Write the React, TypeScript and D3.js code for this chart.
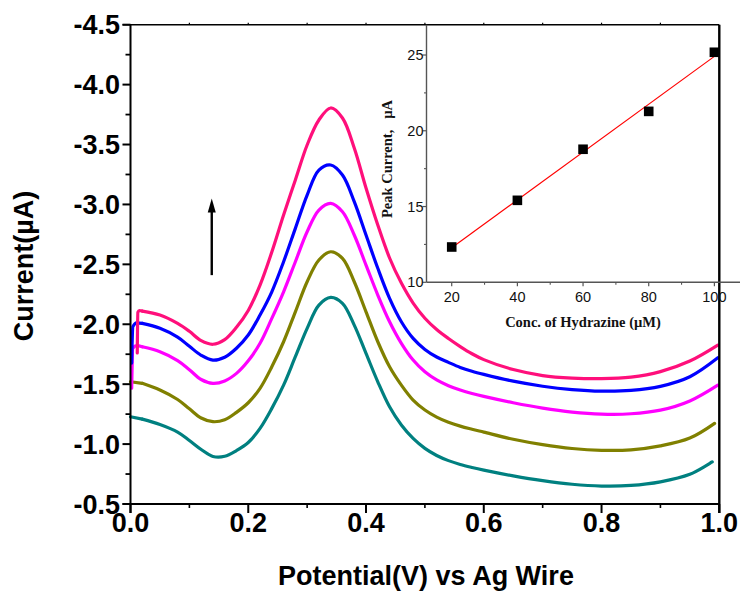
import React from 'react';
import * as d3 from 'd3';

// ---------- Main chart data (potential in V, current in µA) ----------
const potential = [0.02, 0.05, 0.08, 0.10, 0.12, 0.14, 0.16, 0.18, 0.20, 0.22, 0.24, 0.26, 0.28, 0.30, 0.32, 0.34, 0.36, 0.38, 0.40, 0.42, 0.44, 0.46, 0.48, 0.50, 0.52, 0.54, 0.56, 0.58, 0.60, 0.65, 0.70, 0.75, 0.80, 0.85, 0.90, 0.95];

const tealCurrent = [-1.208, -1.163, -1.100, -1.030, -0.955, -0.897, -0.898, -0.946, -1.013, -1.131, -1.298, -1.492, -1.729, -1.966, -2.160, -2.224, -2.174, -1.993, -1.757, -1.520, -1.311, -1.159, -1.047, -0.964, -0.905, -0.862, -0.830, -0.805, -0.783, -0.735, -0.695, -0.665, -0.650, -0.655, -0.685, -0.748];
const oliveCurrent = [-1.507, -1.451, -1.372, -1.294, -1.218, -1.187, -1.203, -1.265, -1.345, -1.465, -1.645, -1.854, -2.104, -2.355, -2.536, -2.605, -2.550, -2.355, -2.104, -1.854, -1.645, -1.492, -1.367, -1.284, -1.225, -1.182, -1.150, -1.124, -1.100, -1.040, -0.995, -0.963, -0.948, -0.952, -0.985, -1.050];
const magentaCurrent = [-1.812, -1.771, -1.697, -1.621, -1.539, -1.507, -1.527, -1.590, -1.695, -1.841, -2.049, -2.271, -2.522, -2.772, -2.953, -3.009, -2.939, -2.745, -2.494, -2.244, -2.021, -1.841, -1.701, -1.603, -1.535, -1.487, -1.451, -1.422, -1.398, -1.345, -1.300, -1.267, -1.250, -1.253, -1.283, -1.360];
const blueCurrent = [-2.007, -1.966, -1.892, -1.816, -1.741, -1.701, -1.725, -1.800, -1.910, -2.077, -2.271, -2.522, -2.800, -3.078, -3.287, -3.329, -3.245, -3.023, -2.745, -2.467, -2.216, -2.021, -1.882, -1.790, -1.727, -1.682, -1.640, -1.608, -1.582, -1.525, -1.483, -1.455, -1.442, -1.448, -1.482, -1.562];
const pinkCurrent = [-2.110, -2.077, -2.007, -1.941, -1.863, -1.833, -1.872, -1.975, -2.115, -2.327, -2.603, -2.912, -3.204, -3.496, -3.705, -3.805, -3.721, -3.471, -3.137, -2.828, -2.553, -2.344, -2.177, -2.050, -1.956, -1.881, -1.814, -1.754, -1.705, -1.622, -1.572, -1.551, -1.546, -1.559, -1.605, -1.693];

// scan onset points and end points of each trace
const onsetV = [[0.0], [0.0], [0.002, 0.004, 0.0105], [0.002, 0.004, 0.0105], [0.0115, 0.0125, 0.015]];
const onsetI = [[-1.228], [-1.520], [-1.467, -1.800, -1.821], [-1.676, -1.980, -2.012], [-1.760, -2.100, -2.115]];
const endV = [0.988, 0.992, 0.9975, 0.9975, 0.9975];
const endI = [-0.852, -1.173, -1.492, -1.720, -1.826];

const seriesCurrents = [tealCurrent, oliveCurrent, magentaCurrent, blueCurrent, pinkCurrent];
const seriesColors = ['#008080', '#808000', '#ff00ff', '#0000ff', '#ff0f7b'];

const mainXTicks = [0, 0.2, 0.4, 0.6, 0.8, 1.0];
const mainXMinor = [0.1, 0.3, 0.5, 0.7, 0.9];
const mainYTicks = [-4.5, -4.0, -3.5, -3.0, -2.5, -2.0, -1.5, -1.0, -0.5];
const mainYMinor = [-4.25, -3.75, -3.25, -2.75, -2.25, -1.75, -1.25, -0.75];

// arrow annotation (data units)
const arrowV = 0.138;
const arrowFrom = -2.41;
const arrowTo = -3.05;

// ---------- Inset data ----------
const hydrazineConc = [20, 40, 60, 80, 100];
const peakCurrent = [12.33, 15.41, 18.78, 21.28, 25.18];
const insetXTicks = [20, 40, 60, 80, 100];
const insetXMinor = [30, 50, 70, 90];
const insetYTicks = [10, 15, 20, 25];
const insetYMinor = [12.5, 17.5, 22.5];

const W = 740;
const H = 592;

export default function App() {
  const x = d3.scaleLinear().domain([0, 1]).range([130.5, 719.3]);
  const y = d3.scaleLinear().domain([-0.5, -4.5]).range([504, 24.7]);

  const ix = d3.scaleLinear().domain([12.32, 107.8]).range([426.5, 740]);
  const iy = d3.scaleLinear().domain([10, 27]).range([282.3, 24.7]);

  const headLine = d3
    .line<[number, number]>()
    .x((d) => x(d[0]))
    .y((d) => y(d[1]))
    .curve(d3.curveMonotoneX);
  const bodyLine = d3
    .line<[number, number]>()
    .x((d) => x(d[0]))
    .y((d) => y(d[1]))
    .curve(d3.curveCatmullRom.alpha(0.5));

  const paths = seriesCurrents.map((cur, k) => {
    const head: [number, number][] = onsetV[k].map((v, j) => [v, onsetI[k][j]] as [number, number]);
    head.push([potential[0], cur[0]]);
    const body: [number, number][] = potential.map((v, j) => [v, cur[j]] as [number, number]);
    body.push([endV[k], endI[k]]);
    return { head: headLine(head) as string, body: bodyLine(body) as string };
  });

  // linear fit of inset data
  const mx = d3.mean(hydrazineConc) as number;
  const my = d3.mean(peakCurrent) as number;
  let sxy = 0;
  let sxx = 0;
  hydrazineConc.forEach((c, i) => {
    sxy += (c - mx) * (peakCurrent[i] - my);
    sxx += (c - mx) * (c - mx);
  });
  const slope = sxy / sxx;
  const icpt = my - slope * mx;
  const fitX0 = hydrazineConc[0];
  const fitX1 = hydrazineConc[hydrazineConc.length - 1];

  const sans = '"Liberation Sans", Arial, Helvetica, sans-serif';
  const serif = '"Liberation Serif", "Times New Roman", serif';
  const x0 = x(0);
  const x1 = x(1);
  const yb = y(-0.5);
  const yt = y(-4.5);

  return (
    <svg width={W} height={H} style={{ position: 'absolute', left: 0, top: 0, background: '#fff' }}>
      <rect x={0} y={0} width={W} height={H} fill="#fff" />
      {/* curves */}
      {paths.map((p, k) => (
        <g key={k} fill="none" stroke={seriesColors[k]} strokeWidth={3.2} strokeLinejoin="round" strokeLinecap="round">
          <path d={p.head} />
          <path d={p.body} />
        </g>
      ))}

      {/* arrow */}
      <line x1={x(arrowV)} x2={x(arrowV)} y1={y(arrowFrom)} y2={y(arrowTo) + 10} stroke="#000" strokeWidth={2.4} />
      <path
        d={`M${x(arrowV)},${y(arrowTo)} L${x(arrowV) - 4},${y(arrowTo) + 14} L${x(arrowV) + 4},${y(arrowTo) + 14} Z`}
        fill="#000"
      />

      {/* main frame */}
      <line x1={x0} x2={x0} y1={yt} y2={yb + 9} stroke="#000" strokeWidth={2} />
      <line x1={x0 - 8} x2={x1} y1={yb} y2={yb} stroke="#000" strokeWidth={2} />
      <line x1={x0 - 8} x2={x1} y1={yt} y2={yt} stroke="#000" strokeWidth={1.6} />
      <line x1={x1} x2={x1} y1={yt} y2={yb + 9} stroke="#000" strokeWidth={2.4} />

      {/* main x ticks */}
      {mainXTicks.map((t) => (
        <g key={'xt' + t}>
          <line x1={x(t)} x2={x(t)} y1={yb} y2={yb + 9} stroke="#000" strokeWidth={2} />
          <text x={x(t)} y={532} textAnchor="middle" fontFamily={sans} fontWeight="bold" fontSize={27} fill="#000">
            {t.toFixed(1)}
          </text>
        </g>
      ))}
      {mainXMinor.map((t) => (
        <line key={'xm' + t} x1={x(t)} x2={x(t)} y1={yb} y2={yb + 4} stroke="#000" strokeWidth={1.6} />
      ))}
      {[0.1, 0.2, 0.3, 0.4, 0.5, 0.6, 0.7, 0.8, 0.9].map((t) => (
        <line key={'tt' + t} x1={x(t)} x2={x(t)} y1={yt} y2={yt - 2} stroke="#000" strokeWidth={1.2} />
      ))}

      {/* main y ticks */}
      {mainYTicks.map((t) => (
        <g key={'yt' + t}>
          <line x1={x0 - 8} x2={x0} y1={y(t)} y2={y(t)} stroke="#000" strokeWidth={2} />
          <text x={120} y={y(t) + 9.5} textAnchor="end" fontFamily={sans} fontWeight="bold" fontSize={27} fill="#000">
            {t.toFixed(1)}
          </text>
        </g>
      ))}
      {mainYMinor.map((t) => (
        <line key={'ym' + t} x1={x0 - 5} x2={x0} y1={y(t)} y2={y(t)} stroke="#000" strokeWidth={1.8} />
      ))}

      {/* main axis titles */}
      <text x={426} y={585} textAnchor="middle" fontFamily={sans} fontWeight="bold" fontSize={27} fill="#000">
        Potential(V) vs Ag Wire
      </text>
      <text
        transform={`translate(33, 266) rotate(-90)`}
        textAnchor="middle"
        fontFamily={sans}
        fontWeight="bold"
        fontSize={27}
        fill="#000"
      >
        Current(µA)
      </text>

      {/* ---------- inset ---------- */}
      <line x1={ix.range()[0]} x2={ix.range()[0]} y1={iy(27)} y2={iy(10)} stroke="#555" strokeWidth={1.4} />
      <line x1={ix.range()[0]} x2={740} y1={iy(10)} y2={iy(10)} stroke="#555" strokeWidth={1.4} />
      {insetXTicks.map((t) => (
        <g key={'ixt' + t}>
          <line x1={ix(t)} x2={ix(t)} y1={iy(10)} y2={iy(10) + 4} stroke="#555" strokeWidth={1.2} />
          <text x={ix(t)} y={302} textAnchor="middle" fontFamily={sans} fontSize={14.5} fill="#111">
            {t}
          </text>
        </g>
      ))}
      {insetXMinor.map((t) => (
        <line key={'ixm' + t} x1={ix(t)} x2={ix(t)} y1={iy(10)} y2={iy(10) + 2.5} stroke="#555" strokeWidth={1.1} />
      ))}
      {insetYTicks.map((t) => (
        <g key={'iyt' + t}>
          <line x1={ix.range()[0] - 4} x2={ix.range()[0]} y1={iy(t)} y2={iy(t)} stroke="#555" strokeWidth={1.2} />
          <text x={ix.range()[0] - 3} y={iy(t) + 5} textAnchor="end" fontFamily={sans} fontSize={14.5} fill="#111">
            {t}
          </text>
        </g>
      ))}
      {insetYMinor.map((t) => (
        <line key={'iym' + t} x1={ix.range()[0] - 2.5} x2={ix.range()[0]} y1={iy(t)} y2={iy(t)} stroke="#555" strokeWidth={1.1} />
      ))}

      {/* fit line */}
      <line
        x1={ix(fitX0)}
        y1={iy(icpt + slope * fitX0)}
        x2={ix(fitX1)}
        y2={iy(icpt + slope * fitX1)}
        stroke="#ff0000"
        strokeWidth={1.2}
      />
      {hydrazineConc.map((c, i) => (
        <rect key={'sq' + c} x={ix(c) - 4.8} y={iy(peakCurrent[i]) - 4.8} width={9.6} height={9.6} fill="#000" />
      ))}

      {/* inset titles */}
      <text x={583} y={327} textAnchor="middle" fontFamily={serif} fontWeight="bold" fontSize={14.5} fill="#111">
        Conc. of Hydrazine (µM)
      </text>
      <text
        transform={`translate(392, 159) rotate(-90)`}
        textAnchor="middle"
        fontFamily={serif}
        fontWeight="bold"
        fontSize={14.5}
        fill="#111"
        style={{ whiteSpace: 'pre' }}
      >
        {'Peak Current,   µA'}
      </text>
    </svg>
  );
}
